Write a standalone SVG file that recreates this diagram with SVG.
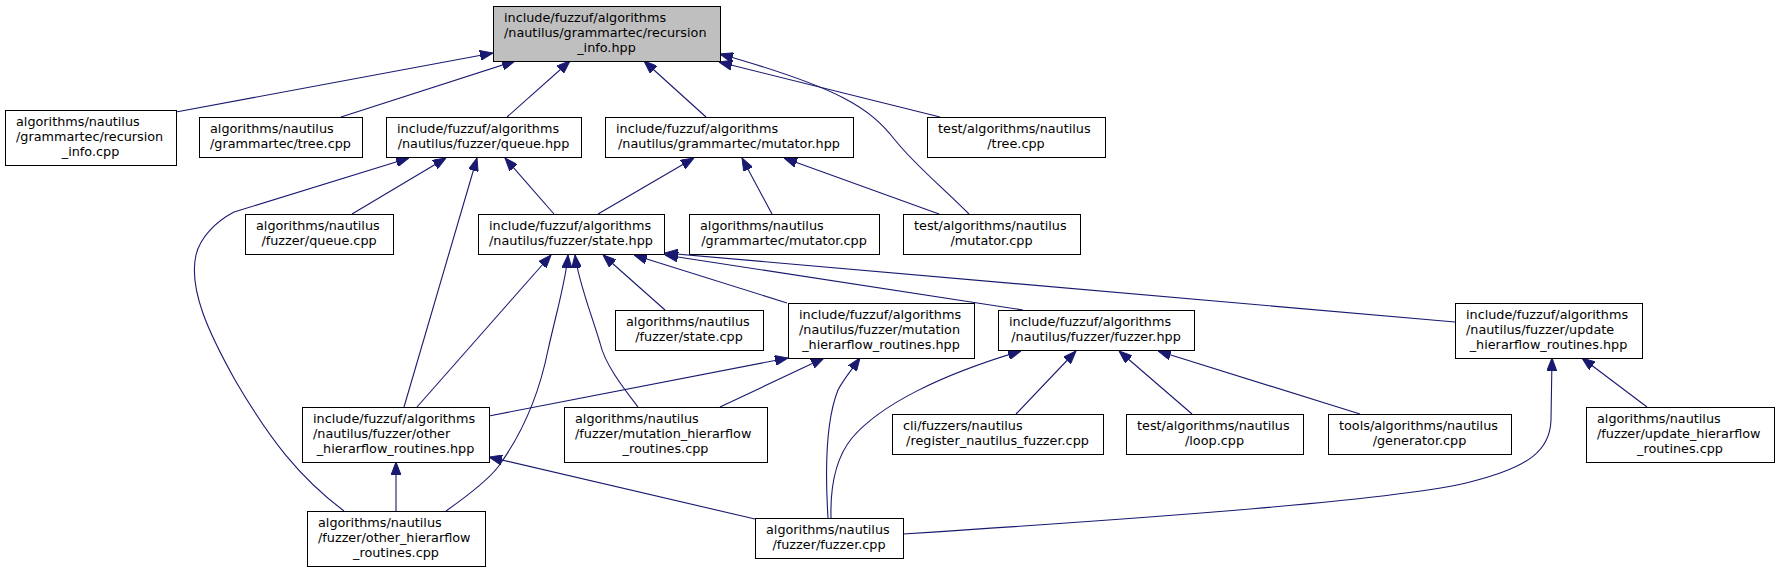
<svg xmlns="http://www.w3.org/2000/svg" width="1781" height="572" viewBox="0 0 1781 572">
<defs>
<style>
.n rect{fill:#fff;stroke:#000;stroke-width:1}
.n.root rect{fill:#bfbfbf}
.n text{font-family:"DejaVu Sans",sans-serif;font-size:12.8px;fill:#000}
.n text.c{text-anchor:middle}
#edges path{fill:none;stroke:#191970;stroke-width:1.1;marker-end:url(#ah)}
</style>
<marker id="ah" markerUnits="userSpaceOnUse" viewBox="0 0 13 10" markerWidth="13" markerHeight="10" refX="13" refY="5" orient="auto">
<path d="M0,0 L13,5 L0,10 z" fill="#191970" stroke="#191970" stroke-width="1"/>
</marker>
</defs>
<rect width="1781" height="572" fill="#fff"/>
<g id="edges">
<path d="M176,112 L493,53"/>
<path d="M341,117 L515,61"/>
<path d="M507,117 L570,61"/>
<path d="M706,117 L644,61"/>
<path d="M940,117 L719,62"/>
<path d="M969,214 C940,185 915,165 895,140 C870,108 840,88 720,54"/>
<path d="M352,214 L446,158"/>
<path d="M554,214 L505,158"/>
<path d="M404,407 L477,158"/>
<path d="M344,511 C300,478 270,440 235,380 C210,335 188,290 196,255 C200,238 215,222 234,212 L409,158"/>
<path d="M598,214 L694,158"/>
<path d="M772,214 L742,158"/>
<path d="M939,214 L784,158"/>
<path d="M665,310 L603,255"/>
<path d="M787,303 L634,255"/>
<path d="M1023,310 L665,255"/>
<path d="M1455,322 L665,253"/>
<path d="M417,407 L551,255"/>
<path d="M446,511 C470,494 488,480 498,467 C525,430 540,390 548,350 C557,310 566,280 568,255"/>
<path d="M638,407 C625,390 605,365 600,343 C590,310 578,280 575,255"/>
<path d="M489,416 L788,358"/>
<path d="M720,407 L824,358"/>
<path d="M828,518 C825,470 826,420 838,390 C843,380 850,372 860,358"/>
<path d="M831,518 C830,480 838,455 852,438 C880,405 940,375 1021,351"/>
<path d="M1016,414 L1076,351"/>
<path d="M1192,414 L1119,351"/>
<path d="M1360,414 L1158,351"/>
<path d="M903,534 C1150,518 1400,500 1470,482 C1530,467 1550,450 1551,420 L1552,358"/>
<path d="M1647,407 L1582,358"/>
<path d="M396,511 L396,462"/>
<path d="M755,519 L489,457"/>
</g>
<g id="root" class="n root"><rect x="493.5" y="6.5" width="227" height="55"/><text x="504" y="22">include/fuzzuf/algorithms</text><text x="504" y="37">/nautilus/grammartec/recursion</text><text class="c" x="606.5" y="52">_info.hpp</text></g>
<g id="recinfo_cpp" class="n"><rect x="5.5" y="110.5" width="171" height="55"/><text x="16" y="126">algorithms/nautilus</text><text x="16" y="141">/grammartec/recursion</text><text class="c" x="90.5" y="156">_info.cpp</text></g>
<g id="tree_cpp" class="n"><rect x="199.5" y="117.5" width="163" height="40"/><text x="210" y="133">algorithms/nautilus</text><text class="c" x="280.5" y="148">/grammartec/tree.cpp</text></g>
<g id="queue_hpp" class="n"><rect x="386.5" y="117.5" width="195" height="40"/><text x="397" y="133">include/fuzzuf/algorithms</text><text class="c" x="483.5" y="148">/nautilus/fuzzer/queue.hpp</text></g>
<g id="mutator_hpp" class="n"><rect x="605.5" y="117.5" width="248" height="40"/><text x="616" y="133">include/fuzzuf/algorithms</text><text class="c" x="729" y="148">/nautilus/grammartec/mutator.hpp</text></g>
<g id="test_tree_cpp" class="n"><rect x="927.5" y="117.5" width="178" height="40"/><text x="938" y="133">test/algorithms/nautilus</text><text class="c" x="1016" y="148">/tree.cpp</text></g>
<g id="queue_cpp" class="n"><rect x="245.5" y="214.5" width="148" height="40"/><text x="256" y="230">algorithms/nautilus</text><text class="c" x="319" y="245">/fuzzer/queue.cpp</text></g>
<g id="state_hpp" class="n"><rect x="478.5" y="214.5" width="186" height="40"/><text x="489" y="230">include/fuzzuf/algorithms</text><text class="c" x="571" y="245">/nautilus/fuzzer/state.hpp</text></g>
<g id="gmutator_cpp" class="n"><rect x="689.5" y="214.5" width="190" height="40"/><text x="700" y="230">algorithms/nautilus</text><text class="c" x="784" y="245">/grammartec/mutator.cpp</text></g>
<g id="test_mutator_cpp" class="n"><rect x="903.5" y="214.5" width="177" height="40"/><text x="914" y="230">test/algorithms/nautilus</text><text class="c" x="991.5" y="245">/mutator.cpp</text></g>
<g id="state_cpp" class="n"><rect x="615.5" y="310.5" width="148" height="40"/><text x="626" y="326">algorithms/nautilus</text><text class="c" x="689" y="341">/fuzzer/state.cpp</text></g>
<g id="mutation_hpp" class="n"><rect x="788.5" y="303.5" width="186" height="55"/><text x="799" y="319">include/fuzzuf/algorithms</text><text x="799" y="334">/nautilus/fuzzer/mutation</text><text class="c" x="881" y="349">_hierarflow_routines.hpp</text></g>
<g id="fuzzer_hpp" class="n"><rect x="998.5" y="310.5" width="196" height="40"/><text x="1009" y="326">include/fuzzuf/algorithms</text><text class="c" x="1096" y="341">/nautilus/fuzzer/fuzzer.hpp</text></g>
<g id="update_hpp" class="n"><rect x="1455.5" y="303.5" width="187" height="55"/><text x="1466" y="319">include/fuzzuf/algorithms</text><text x="1466" y="334">/nautilus/fuzzer/update</text><text class="c" x="1548.5" y="349">_hierarflow_routines.hpp</text></g>
<g id="other_hpp" class="n"><rect x="302.5" y="407.5" width="187" height="55"/><text x="313" y="423">include/fuzzuf/algorithms</text><text x="313" y="438">/nautilus/fuzzer/other</text><text class="c" x="395.5" y="453">_hierarflow_routines.hpp</text></g>
<g id="mutation_cpp" class="n"><rect x="564.5" y="407.5" width="203" height="55"/><text x="575" y="423">algorithms/nautilus</text><text x="575" y="438">/fuzzer/mutation_hierarflow</text><text class="c" x="665.5" y="453">_routines.cpp</text></g>
<g id="register_cpp" class="n"><rect x="892.5" y="414.5" width="211" height="40"/><text x="903" y="430">cli/fuzzers/nautilus</text><text class="c" x="997.5" y="445">/register_nautilus_fuzzer.cpp</text></g>
<g id="loop_cpp" class="n"><rect x="1126.5" y="414.5" width="177" height="40"/><text x="1137" y="430">test/algorithms/nautilus</text><text class="c" x="1214.5" y="445">/loop.cpp</text></g>
<g id="generator_cpp" class="n"><rect x="1328.5" y="414.5" width="183" height="40"/><text x="1339" y="430">tools/algorithms/nautilus</text><text class="c" x="1419.5" y="445">/generator.cpp</text></g>
<g id="update_cpp" class="n"><rect x="1586.5" y="407.5" width="188" height="55"/><text x="1597" y="423">algorithms/nautilus</text><text x="1597" y="438">/fuzzer/update_hierarflow</text><text class="c" x="1680" y="453">_routines.cpp</text></g>
<g id="other_cpp" class="n"><rect x="307.5" y="511.5" width="178" height="55"/><text x="318" y="527">algorithms/nautilus</text><text x="318" y="542">/fuzzer/other_hierarflow</text><text class="c" x="396" y="557">_routines.cpp</text></g>
<g id="fuzzer_cpp" class="n"><rect x="755.5" y="518.5" width="148" height="40"/><text x="766" y="534">algorithms/nautilus</text><text class="c" x="829" y="549">/fuzzer/fuzzer.cpp</text></g>
</svg>
